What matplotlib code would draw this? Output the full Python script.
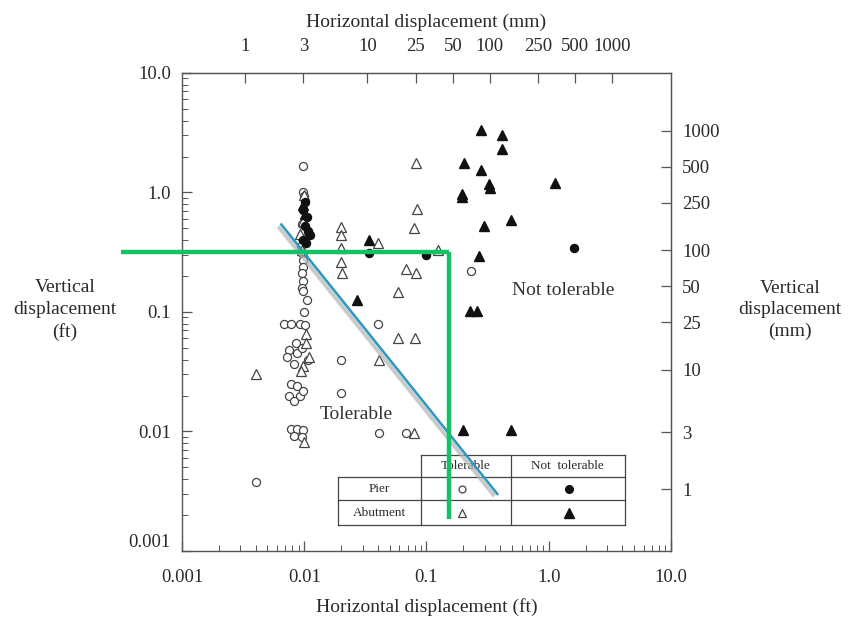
import matplotlib
matplotlib.use("Agg")
import matplotlib.pyplot as plt
import matplotlib.transforms as mtransforms
from matplotlib.ticker import FixedLocator, NullLocator, LogLocator, NullFormatter, FixedFormatter

plt.rcParams['font.family'] = ['Liberation Serif', 'DejaVu Serif']

# ---- data (ft) ----
pier_tol_x = [0.0098, 0.0097, 0.0099, 0.0095, 0.0096, 0.0094, 0.0096, 0.0098, 0.0097, 0.0096,
              0.0098, 0.0095, 0.0098, 0.0105, 0.0099, 0.0068, 0.0078, 0.0092, 0.0102, 0.0085,
              0.0075, 0.0088, 0.0072, 0.0095, 0.0108, 0.0082, 0.0078, 0.0088, 0.0075, 0.0092,
              0.0082, 0.0098, 0.0078, 0.0088, 0.0098, 0.0082, 0.0095, 0.0040, 0.0200, 0.0200,
              0.0400, 0.0410, 0.0680, 0.2300]
pier_tol_y = [1.65, 1.00, 0.93, 0.55, 0.42, 0.36, 0.31, 0.27, 0.24, 0.21,
              0.18, 0.16, 0.15, 0.125, 0.100, 0.080, 0.080, 0.080, 0.078, 0.055,
              0.048, 0.045, 0.042, 0.050, 0.040, 0.037, 0.025, 0.024, 0.020, 0.020,
              0.018, 0.022, 0.0104, 0.0104, 0.0102, 0.0092, 0.0090, 0.0038, 0.040, 0.021,
              0.080, 0.0098, 0.0098, 0.22]

pier_not_x = [0.0102, 0.0097, 0.0105, 0.0108, 0.0102, 0.0112, 0.0098, 0.0104, 0.034, 0.099, 1.62]
pier_not_y = [0.83, 0.72, 0.62, 0.48, 0.52, 0.44, 0.40, 0.38, 0.31, 0.30, 0.34]

abut_tol_x = [0.0099, 0.0097, 0.0093, 0.0095, 0.0103, 0.0104, 0.0110, 0.0098, 0.0094, 0.0099,
              0.0040, 0.0200, 0.0200, 0.0200, 0.0200, 0.0203, 0.0400, 0.0580, 0.0580, 0.0800,
              0.0410, 0.0790, 0.0680, 0.0820, 0.1240, 0.0835, 0.0790, 0.0820]
abut_tol_y = [0.95, 0.58, 0.45, 0.33, 0.065, 0.055, 0.042, 0.035, 0.032, 0.0082,
              0.030, 0.51, 0.44, 0.34, 0.26, 0.21, 0.375, 0.148, 0.060, 0.060,
              0.040, 0.0098, 0.23, 0.21, 0.33, 0.73, 0.50, 1.78]

abut_not_x = [0.0098, 0.0101, 0.034, 0.027, 0.198, 0.487, 0.281, 0.417, 0.417, 0.204,
              0.281, 0.322, 0.330, 0.195, 0.195, 1.12, 0.494, 0.293, 0.271, 0.225, 0.260]
abut_not_y = [0.78, 0.66, 0.40, 0.126, 0.0102, 0.0102, 3.32, 3.01, 2.29, 1.78,
              1.55, 1.18, 1.10, 0.98, 0.91, 1.20, 0.59, 0.52, 0.296, 0.102, 0.102]

# overlay lines (ft)
green_h_x = [0.00032, 0.153]
green_h_y = [0.315, 0.315]
green_v_x = [0.153, 0.153]
green_v_y = [0.315, 0.00186]
blue_x = [0.0065, 0.38]
blue_y = [0.54, 0.003]

x_ticks = [0.001, 0.01, 0.1, 1.0, 10.0]
x_labels = ['0.001', '0.01', '0.1', '1.0', '10.0']
y_ticks = [0.001, 0.01, 0.1, 1.0, 10.0]
y_labels = ['0.001', '0.01', '0.1', '1.0', '10.0']
mm_ticks = [1, 3, 10, 25, 50, 100, 250, 500, 1000]
mm_labels = ['1', '3', '10', '25', '50', '100', '250', '500', '1000']

# ---- figure ----
fig = plt.figure(figsize=(8.5, 6.2), dpi=100)
ax = fig.add_axes([0.2141, 0.1113, 0.5753, 0.7710])
ax.set_xscale('log')
ax.set_yscale('log')
ax.set_xlim(0.001, 10)
ax.set_ylim(0.001, 10)

ink = '#2a2a2a'
spine_c = '#555555'
for s in ax.spines.values():
    s.set_color(spine_c)
    s.set_linewidth(1.0)

ms = 5.8
ax.plot(pier_tol_x, pier_tol_y, 'o', ms=ms, mfc='white', mec='#444444', mew=0.9, ls='none', zorder=3)
ax.plot(abut_tol_x, abut_tol_y, '^', ms=ms + 1, mfc='white', mec='#444444', mew=0.9, ls='none', zorder=3)
ax.plot(pier_not_x, pier_not_y, 'o', ms=ms, mfc='#111111', mec='#111111', ls='none', zorder=4)
ax.plot(abut_not_x, abut_not_y, '^', ms=ms + 1.2, mfc='#111111', mec='#111111', ls='none', zorder=4)

# blue line with gray shadow
shadow = mtransforms.offset_copy(ax.transData, fig=fig, x=-3, y=-2, units='dots')
ax.plot(blue_x, blue_y, color='#b4b4b4', lw=3.0, alpha=0.7, transform=shadow, zorder=5,
        solid_capstyle='butt')
ax.plot(blue_x, blue_y, color='#2a98c2', lw=1.8, zorder=6)

# green lines
ax.plot(green_h_x, green_h_y, color='#12c265', lw=3.2, clip_on=False, zorder=7,
        solid_capstyle='butt')
ax.plot(green_v_x, green_v_y, color='#12c265', lw=3.2, clip_on=False, zorder=7,
        solid_capstyle='butt')

# region labels
ax.text(0.0264, 0.0139, 'Tolerable', fontsize=14, color='#333333', ha='center', va='center')
ax.text(1.32, 0.15, 'Not tolerable', fontsize=14, color='#333333', ha='center', va='center')

# ticks
ax.xaxis.set_major_locator(FixedLocator(x_ticks))
ax.xaxis.set_major_formatter(FixedFormatter(x_labels))
ax.yaxis.set_major_locator(FixedLocator(y_ticks))
ax.yaxis.set_major_formatter(FixedFormatter(y_labels))
ax.xaxis.set_minor_locator(LogLocator(base=10, subs=range(2, 10)))
ax.yaxis.set_minor_locator(LogLocator(base=10, subs=range(2, 10)))
ax.xaxis.set_minor_formatter(NullFormatter())
ax.yaxis.set_minor_formatter(NullFormatter())
ax.tick_params(which='both', direction='in', colors=spine_c, labelcolor=ink, labelsize=13.5)
ax.tick_params(axis='y', which='major', length=7, width=0.9, pad=8)
ax.tick_params(axis='x', which='major', length=7, width=0.9, pad=13)
ax.tick_params(which='minor', length=4, width=0.7)
# lowest y label sits slightly above the corner
ax.get_yticklabels()[0].set_va('bottom')

ax.set_xlabel('Horizontal displacement (ft)', fontsize=14, color=ink, labelpad=9)

# secondary axes in mm
top = ax.secondary_xaxis('top', functions=(lambda v: v * 304.8, lambda v: v / 304.8))
top.set_xscale('log')
top.xaxis.set_major_locator(FixedLocator(mm_ticks))
top.xaxis.set_major_formatter(FixedFormatter(mm_labels))
top.xaxis.set_minor_locator(NullLocator())
top.tick_params(direction='in', length=7, width=0.9, colors=spine_c, labelcolor=ink,
                labelsize=13.5, pad=13)
top.spines['top'].set_color(spine_c)
top.set_xlabel('Horizontal displacement (mm)', fontsize=14, color=ink, labelpad=8)

right = ax.secondary_yaxis('right', functions=(lambda v: v * 304.8, lambda v: v / 304.8))
right.set_yscale('log')
right.yaxis.set_major_locator(FixedLocator(mm_ticks))
right.yaxis.set_major_formatter(FixedFormatter(mm_labels))
right.yaxis.set_minor_locator(NullLocator())
right.tick_params(direction='in', length=7, width=0.9, colors=spine_c, labelcolor=ink,
                  labelsize=13.5, pad=8)
right.spines['right'].set_color(spine_c)

# side labels
fig.text(65 / 850, 1 - 310 / 620, 'Vertical\ndisplacement\n(ft)', fontsize=14, color=ink,
         ha='center', va='center', linespacing=1.35)
fig.text(790 / 850, 1 - 310 / 620, 'Vertical\ndisplacement\n(mm)', fontsize=14, color=ink,
         ha='center', va='center', linespacing=1.35)

# legend table (axes fraction)
tc = '#444444'
T = ax.transAxes
xs = [0.320, 0.488, 0.672, 0.906]
ys = [0.201, 0.154, 0.107, 0.054]
kw = dict(transform=T, color=tc, lw=0.9, zorder=2)
ax.plot([xs[1], xs[3]], [ys[0], ys[0]], **kw)
ax.plot([xs[0], xs[3]], [ys[1], ys[1]], **kw)
ax.plot([xs[0], xs[3]], [ys[2], ys[2]], **kw)
ax.plot([xs[0], xs[3]], [ys[3], ys[3]], **kw)
ax.plot([xs[0], xs[0]], [ys[1], ys[3]], **kw)
ax.plot([xs[1], xs[1]], [ys[0], ys[3]], **kw)
ax.plot([xs[2], xs[2]], [ys[0], ys[3]], **kw)
ax.plot([xs[3], xs[3]], [ys[0], ys[3]], **kw)
fs = 9.5
ax.text((xs[1] + xs[2]) / 2, (ys[0] + ys[1]) / 2, 'Tolerable', transform=T, fontsize=fs,
        ha='center', va='center', color=ink, zorder=2)
ax.text((xs[2] + xs[3]) / 2, (ys[0] + ys[1]) / 2, 'Not  tolerable', transform=T, fontsize=fs,
        ha='center', va='center', color=ink, zorder=2)
ax.text((xs[0] + xs[1]) / 2, (ys[1] + ys[2]) / 2, 'Pier', transform=T, fontsize=fs,
        ha='center', va='center', color=ink, zorder=2)
ax.text((xs[0] + xs[1]) / 2, (ys[2] + ys[3]) / 2, 'Abutment', transform=T, fontsize=fs,
        ha='center', va='center', color=ink, zorder=2)
cx1, cx2 = 0.573, 0.791
ry1, ry2 = (ys[1] + ys[2]) / 2, (ys[2] + ys[3]) / 2
ax.plot([cx1], [ry1], 'o', ms=5, mfc='white', mec='#444444', mew=0.9, transform=T, zorder=3)
ax.plot([cx2], [ry1], 'o', ms=5.5, mfc='#111111', mec='#111111', transform=T, zorder=3)
ax.plot([cx1], [ry2], '^', ms=6, mfc='white', mec='#444444', mew=0.9, transform=T, zorder=3)
ax.plot([cx2], [ry2], '^', ms=6.5, mfc='#111111', mec='#111111', transform=T, zorder=3)

fig.savefig('out.png', dpi=100)
